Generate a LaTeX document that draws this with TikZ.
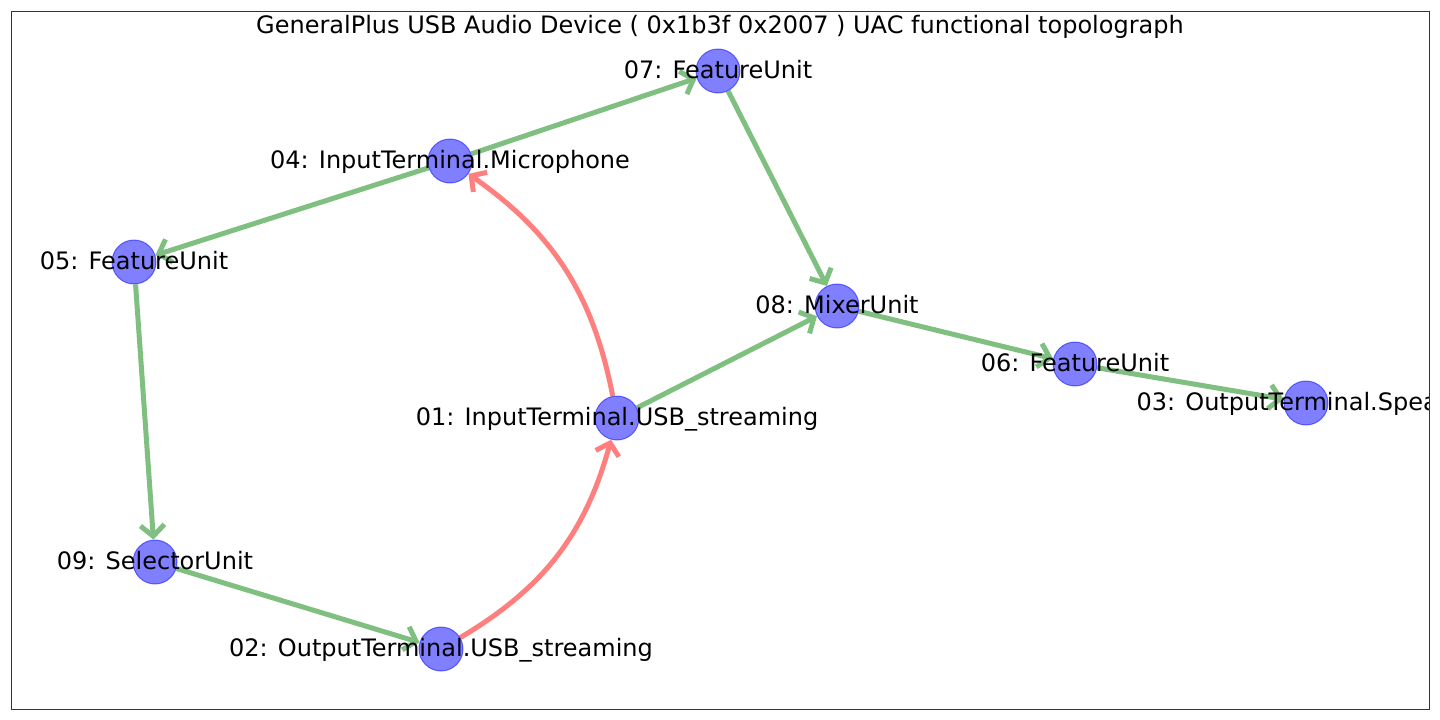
\documentclass[tikz,border=0pt]{standalone}
\usepackage{fontspec}
\setmainfont{DejaVu Sans}
\usetikzlibrary{arrows.meta}
\pgfdeclarelayer{bg}
\pgfsetlayers{bg,main}
\definecolor{edgegreen}{RGB}{127,191,127}
\definecolor{edgered}{RGB}{255,127,127}
\begin{document}
\begin{tikzpicture}[x=1pt,y=-1pt,
  unit/.style={circle, minimum size=44pt, inner sep=0pt, fill=blue, fill opacity=0.5, draw=blue, draw opacity=0.5, line width=1pt},
  lbl/.style={font=\fontsize{24}{28}\selectfont, text height=0.76em, text depth=0.24em, inner sep=0pt, yshift=-5pt},
  ttl/.style={font=\fontsize{24}{28}\selectfont, inner sep=0pt, anchor=base},
  tip/.style={-{Straight Barb[length=11pt,width=24pt]}},
  flow/.style={draw=edgegreen, line width=5pt, tip},
  ctrl/.style={draw=edgered, line width=5pt, tip, bend right=22},
  frame/.style={draw=black!80, line width=1pt}
]
\useasboundingbox (0,0) rectangle (1440,720);
\begin{scope}
\clip (11,11) rectangle (1429,709);
\node[unit] (n07) at (718,71) {};
\node[unit] (n04) at (450,161) {};
\node[unit] (n05) at (134,262) {};
\node[unit] (n08) at (837,306) {};
\node[unit] (n06) at (1075,364) {};
\node[unit] (n03) at (1306,403) {};
\node[unit] (n01) at (617,418) {};
\node[unit] (n09) at (155,562) {};
\node[unit] (n02) at (441,649) {};
\begin{pgfonlayer}{bg}
\draw[flow] (n04) -- (n07);
\draw[flow] (n04) -- (n05);
\draw[flow] (n07) -- (n08);
\draw[flow] (n05) -- (n09);
\draw[flow] (n09) -- (n02);
\draw[flow] (n01) -- (n08);
\draw[flow] (n08) -- (n06);
\draw[flow] (n06) -- (n03);
\draw[ctrl] (n01) to (n04);
\draw[ctrl] (n02) to (n01);
\end{pgfonlayer}
\node[lbl] (t07) at (n07) {07: FeatureUnit};
\node[lbl] (t04) at (n04) {04: InputTerminal.Microphone};
\node[lbl] (t05) at (n05) {05: FeatureUnit};
\node[lbl] (t08) at (n08) {08: MixerUnit};
\node[lbl] (t06) at (n06) {06: FeatureUnit};
\node[lbl] (t03) at (n03) {03: OutputTerminal.Speaker};
\node[lbl] (t01) at (n01) {01: InputTerminal.USB\_streaming};
\node[lbl] (t09) at (n09) {09: SelectorUnit};
\node[lbl] (t02) at (n02) {02: OutputTerminal.USB\_streaming};
\node[ttl] (title) at (720,33) {GeneralPlus USB Audio Device ( 0x1b3f 0x2007 ) UAC functional topolograph};
\end{scope}
\draw[frame] (11,11) rectangle (1429,709);
\end{tikzpicture}
\end{document}
